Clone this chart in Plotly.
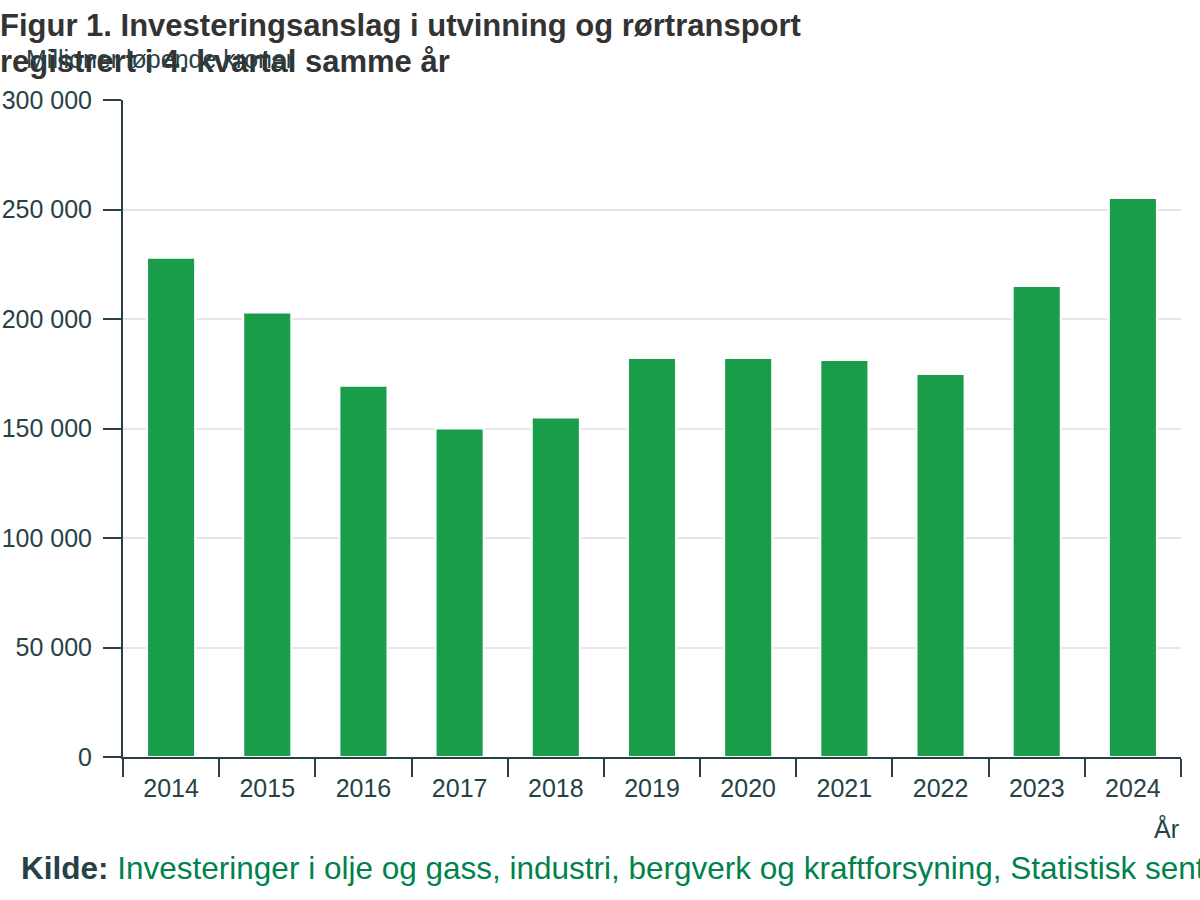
import plotly.graph_objects as go

years = ["2014", "2015", "2016", "2017", "2018", "2019", "2020", "2021", "2022", "2023", "2024"]
values = [228000, 203000, 169500, 150000, 155000, 182200, 182200, 181300, 174900, 215100, 255300]
y_ticks = [0, 50000, 100000, 150000, 200000, 250000, 300000]

title_line1 = "Figur 1. Investeringsanslag i utvinning og rørtransport"
title_line2 = "registrert i 4. kvartal samme år"
y_title = "Millioner løpende kroner"
x_title = "År"
source_label = "Kilde:"
source_text = "Investeringer i olje og gass, industri, bergverk og kraftforsyning, Statistisk sentralbyrå"

dark = "#274247"
font_family = "Liberation Sans, Arial, sans-serif"

fig = go.Figure()
fig.add_trace(go.Bar(
    x=years, y=values,
    marker=dict(color="#1a9d49", line=dict(color="#ffffff", width=2)),
    hoverinfo="x+y",
))

fig.update_layout(
    width=1200, height=900,
    margin=dict(l=123, r=19, t=100, b=143, autoexpand=False),
    paper_bgcolor="white", plot_bgcolor="white",
    bargap=0.5,
    showlegend=False,
    separators=", ",
    font=dict(family=font_family, color=dark, size=22),
    xaxis=dict(
        type="category",
        automargin=False,
        showline=True, linecolor=dark, linewidth=2,
        ticks="outside", ticklen=18, tickwidth=2, tickcolor=dark,
        tickson="boundaries",
        showgrid=False,
        tickfont=dict(size=25, color=dark),
        ticklabelstandoff=8,
        fixedrange=True,
    ),
    yaxis=dict(
        range=[0, 300000],
        automargin=False,
        tickvals=y_ticks,
        tickformat=",d",
        showline=True, linecolor=dark, linewidth=2,
        ticks="outside", ticklen=18, tickwidth=2, tickcolor=dark,
        showgrid=True, gridcolor="#e6e6e6", gridwidth=1.5,
        zeroline=False,
        tickfont=dict(size=25, color=dark),
        ticklabelstandoff=6,
        fixedrange=True,
    ),
    annotations=[
        dict(text="<b>" + title_line1 + "</b>", xref="paper", yref="paper",
             x=0, xanchor="left", y=1, yanchor="middle",
             xshift=-125, yshift=100 - 25, align="left", showarrow=False,
             font=dict(size=31, color="#333333", family=font_family)),
        dict(text="<b>" + title_line2 + "</b>", xref="paper", yref="paper",
             x=0, xanchor="left", y=1, yanchor="middle",
             xshift=-125, yshift=100 - 61, align="left", showarrow=False,
             font=dict(size=31, color="#333333", family=font_family)),
        dict(text=y_title, xref="paper", yref="paper",
             x=0, xanchor="left", y=1, yanchor="middle",
             xshift=-99, yshift=100 - 59, showarrow=False,
             font=dict(size=25, color=dark, family=font_family)),
        dict(text=x_title, xref="paper", yref="paper",
             x=1, xanchor="right", y=0, yanchor="middle",
             yshift=-71, xshift=0, showarrow=False,
             font=dict(size=25, color=dark, family=font_family)),
        dict(text="<b>" + source_label + "</b> <span style='color:#00824d'>" + source_text + "</span>",
             xref="paper", yref="paper",
             x=0, xanchor="left", y=0, yanchor="middle",
             xshift=-104, yshift=-111, showarrow=False, align="left",
             font=dict(size=31.5, color=dark, family=font_family)),
    ],
)

fig.write_html("out.html")
